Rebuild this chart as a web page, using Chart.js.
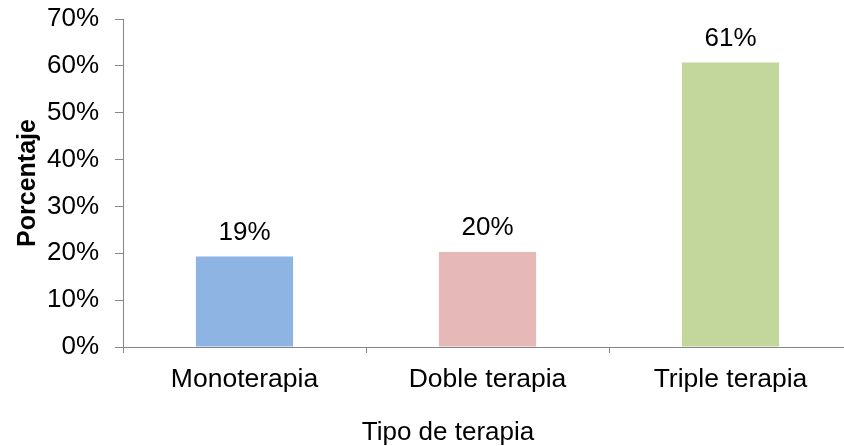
<!DOCTYPE html>
<html>
<head>
<meta charset="utf-8">
<script src="https://cdn.jsdelivr.net/npm/chart.js@4"></script>
<style>
  html, body { margin: 0; padding: 0; background: #fff; overflow: hidden; }
  #wrap { width: 860px; height: 446px; position: relative; }
</style>
</head>
<body>
<div id="wrap"><canvas id="myChart"></canvas></div>
<script>
  // data
  const categories = ['Monoterapia', 'Doble terapia', 'Triple terapia'];
  const porcentajes = [19.3, 20.3, 60.7];
  const etiquetas = ['19%', '20%', '61%'];
  const colores = ['#8EB4E3', '#E6B9B8', '#C3D69B'];
  const yTicks = [0, 10, 20, 30, 40, 50, 60, 70];

  const FONT = '"Liberation Sans", Arial, sans-serif';
  const AXIS = '#868686';

  // value labels above each bar, plus the x title (it sits left of the plot centre in the original)
  const barLabels = {
    id: 'barLabels',
    afterDatasetsDraw(chart) {
      const ctx = chart.ctx;
      const meta = chart.getDatasetMeta(0);
      ctx.save();
      ctx.font = '26px ' + FONT;
      ctx.fillStyle = '#000';
      ctx.textAlign = 'center';
      ctx.textBaseline = 'alphabetic';
      meta.data.forEach((bar, i) => {
        ctx.fillText(etiquetas[i], bar.x, bar.y - 17);
      });
      ctx.fillText('Tipo de terapia', 448, 440);
      ctx.restore();
    }
  };

  const ctx = document.getElementById('myChart').getContext('2d');
  const myChart = new Chart(ctx, {
    type: 'bar',
    data: {
      labels: categories,
      datasets: [{
        data: porcentajes,
        backgroundColor: colores,
        borderWidth: 0,
        categoryPercentage: 0.4,
        barPercentage: 1.0
      }]
    },
    options: {
      responsive: true,
      maintainAspectRatio: false,
      animation: false,
      layout: { padding: { top: 19, right: 8, left: 0, bottom: 0 } },
      plugins: {
        legend: { display: false },
        tooltip: { enabled: false }
      },
      scales: {
        x: {
          afterFit: (axis) => { axis.height = 99; axis.paddingLeft = 0; axis.paddingRight = 0; },
          grid: {
            display: true,
            offset: true,
            drawOnChartArea: false,
            drawTicks: true,
            tickLength: 6,
            color: AXIS
          },
          border: { display: true, color: AXIS, width: 1 },
          ticks: {
            color: '#000',
            font: { family: FONT, size: 26.5 },
            padding: 11,
            maxRotation: 0
          },
          title: { display: false }
        },
        y: {
          min: 0,
          max: 70,
          afterBuildTicks: (axis) => { axis.ticks = yTicks.map(v => ({ value: v })); },
          afterFit: (axis) => { axis.width = 123; axis.paddingTop = 0; axis.paddingBottom = 0; },
          grid: {
            display: true,
            drawOnChartArea: false,
            drawTicks: true,
            tickLength: 8,
            color: AXIS
          },
          border: { display: true, color: AXIS, width: 1 },
          ticks: {
            color: '#000',
            font: { family: FONT, size: 26 },
            padding: 16,
            callback: (v) => v + '%'
          },
          title: {
            display: true,
            text: 'Porcentaje',
            color: '#000',
            font: { family: FONT, size: 25, weight: 'bold' },
            padding: { top: 13, bottom: 2 }
          }
        }
      }
    },
    plugins: [barLabels]
  });
</script>
</body>
</html>
